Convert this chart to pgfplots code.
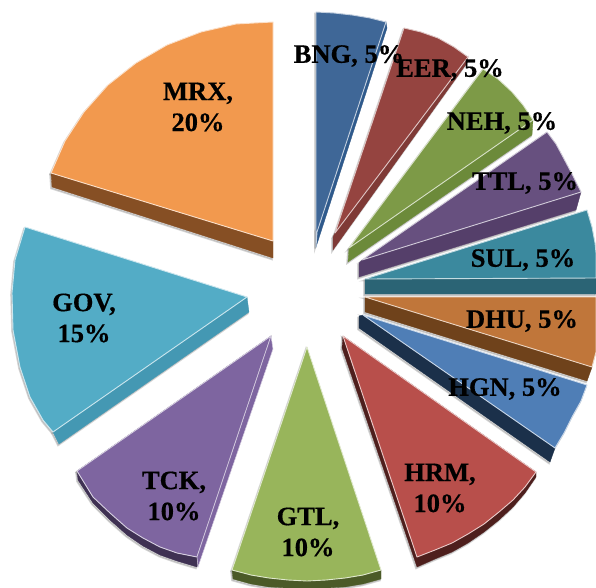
\documentclass[border=0pt]{standalone}
\usepackage{pgfplots}
\pgfplotsset{compat=1.18}
\usepackage{fontspec}
\setmainfont[BoldFeatures={FakeBold=0.5}]{Liberation Serif}
\definecolor{bngF}{HTML}{3F6797}\definecolor{bngS}{HTML}{2F5A8C}
\definecolor{eerF}{HTML}{954440}\definecolor{eerS}{HTML}{7F3A36}
\definecolor{nehF}{HTML}{7D9A47}\definecolor{nehS}{HTML}{6C8A3A}
\definecolor{ttlF}{HTML}{67507F}\definecolor{ttlS}{HTML}{553F6A}
\definecolor{sulF}{HTML}{3B899E}\definecolor{sulS}{HTML}{2B6475}
\definecolor{dhuF}{HTML}{C0763A}\definecolor{dhuS}{HTML}{6F421B}
\definecolor{hgnF}{HTML}{4F7EB6}\definecolor{hgnS}{HTML}{1B304A}
\definecolor{hrmF}{HTML}{B84F4B}\definecolor{hrmS}{HTML}{4E1F1D}
\definecolor{gtlF}{HTML}{98B55B}\definecolor{gtlS}{HTML}{4B5A28}
\definecolor{tckF}{HTML}{7E65A0}\definecolor{tckS}{HTML}{3F3153}
\definecolor{govF}{HTML}{53ACC6}\definecolor{govS}{HTML}{4498B3}
\definecolor{mrxF}{HTML}{F2994E}\definecolor{mrxS}{HTML}{864F24}
% face colour, side colour, face outline, side outline
\newcommand{\slice}[4]{%
  \addplot[forget plot,no markers,draw=black!45,line width=1.6bp,opacity=.35,fill=black!45,xshift=-1bp,yshift=-1.5bp] coordinates {#4} --cycle;
  \addplot[forget plot,no markers,draw=black!45,line width=1.6bp,opacity=.35,fill=black!45,xshift=-1bp,yshift=-1.5bp] coordinates {#3} --cycle;
  \addplot[forget plot,no markers,fill=#2,draw=#2,line width=.3bp] coordinates {#4} --cycle;
  \addplot[forget plot,no markers,fill=#1,draw=white!70!#1,line width=.9bp,line join=round] coordinates {#3} --cycle;
}
\begin{document}
\begin{tikzpicture}
\begin{axis}[
  scale only axis,width=596bp,height=588bp,
  xmin=0,xmax=596,ymin=0,ymax=588,y dir=reverse,
  axis lines=none,
]
\path (rel axis cs:0,0) rectangle (rel axis cs:1,1);
% BNG
\slice{bngF}{bngS}
 {(316,12)(334,13)(352,15)(370,18)(386,22)(317,232)(316,247)}
 {(386,22)(387,28)(316,247)(316,230)}
% EER
\slice{eerF}{eerS}
 {(404,28)(421,32)(438,38)(454,47)(468,57)(335,233)}
 {(468,57)(467,63)(333,250)(333,237)(335,233)}
% NEH
\slice{nehF}{nehS}
 {(483,69)(498,79)(512,92)(523,105)(533,120)(349,248)}
 {(533,120)(532,135)(348,262)(349,248)}
% TTL
\slice{ttlF}{ttlS}
 {(547,132)(556,144)(563,157)(572,174)(581,192)(362,260)}
 {(581,192)(576,210)(359,277)(359,263)(362,260)}
% SUL
\slice{sulF}{sulS}
 {(365,279)(587,210)(592,227)(595,243)(596,253)(596,278)}
 {(365,279)(596,278)(596,294)(365,294)}
% DHU
\slice{dhuF}{dhuS}
 {(365,297)(596,297)(596,352)(592,367)}
 {(365,297)(592,367)(587,381)(365,312)}
% HGN
\slice{hgnF}{hgnS}
 {(363,315)(587,385)(581,401)(572,417)(564,433)(555,448)}
 {(359,316)(363,315)(555,448)(550,462)(359,328)}
% HRM
\slice{hrmF}{hrmS}
 {(343,336)(536,472)(525,487)(513,500)(499,512)(484,524)(468,534)(452,543)(435,550)(417,557)}
 {(343,336)(536,472)(536,477)(525,493)(513,507)(499,520)(484,532)(468,543)(452,552)(435,559)(417,567)(342,348)}
% GTL
\slice{gtlF}{gtlS}
 {(307,347)(381,570)(363,575)(345,578)(326,580)(307,581)(288,580)(269,578)(251,575)(232,570)}
 {(232,570)(381,570)(381,579)(363,584)(345,587)(326,588)(288,588)(269,587)(251,584)(233,579)}
% TCK
\slice{tckF}{tckS}
 {(271,336)(77,471)(93,497)(110,513)(127,528)(143,538)(160,547)(177,553)(197,557)}
 {(271,336)(77,471)(78,480)(93,503)(110,520)(127,535)(143,546)(160,555)(177,561)(197,567)}
\addplot[forget plot,no markers,fill=tckF,draw=white!70!tckF,line width=.5bp] coordinates {(271,336)(273,349)(198,567)(197,557)} --cycle;
% GOV
\slice{govF}{govS}
 {(25,227)(247,297)(53,432)(43,420)(30,397)(20,367)(13,330)(12,293)(15,260)}
 {(247,297)(249,312)(59,444)(53,432)}
% MRX
\slice{mrxF}{mrxS}
 {(273,22)(273,241)(51,173)(65,141)(84,112)(108,85)(136,63)(167,45)(201,32)(236,24)}
 {(51,173)(273,241)(273,258)(52,187)}
% labels
\tikzset{lab/.style={font=\fontsize{26.5bp}{31bp}\selectfont\bfseries,text=black,align=center,inner sep=0pt}}
\node[lab] at (axis cs:349,56) {BNG, 5\%};
\node[lab] at (axis cs:450,70) {EER, 5\%};
\node[lab] at (axis cs:502,123) {NEH, 5\%};
\node[lab] at (axis cs:525,183) {TTL, 5\%};
\node[lab] at (axis cs:523,260) {SUL, 5\%};
\node[lab] at (axis cs:522,321) {DHU, 5\%};
\node[lab] at (axis cs:505,389) {HGN, 5\%};
\node[lab] at (axis cs:440,488) {HRM,\\10\%};
\node[lab] at (axis cs:198,107) {MRX,\\20\%};
\node[lab] at (axis cs:84,318) {GOV,\\15\%};
\node[lab] at (axis cs:174,496) {TCK,\\10\%};
\node[lab] at (axis cs:308,532) {GTL,\\10\%};
\end{axis}
\end{tikzpicture}
\end{document}
